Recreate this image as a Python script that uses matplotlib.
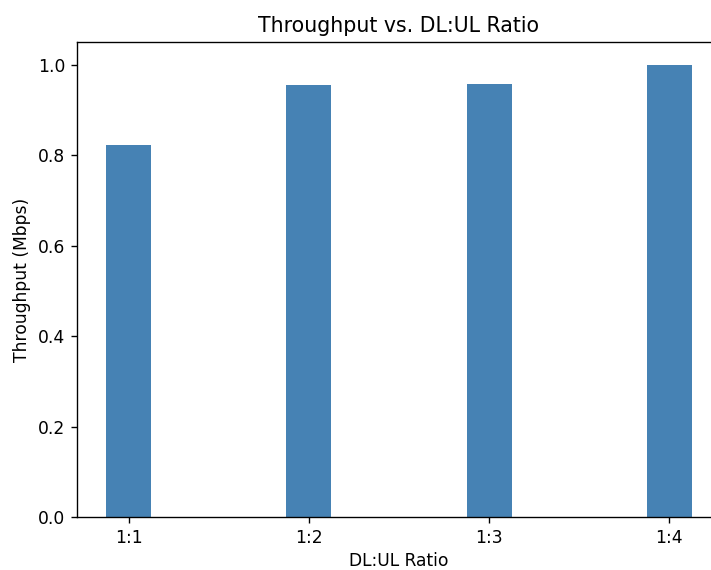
import matplotlib
matplotlib.use("Agg")
import matplotlib.pyplot as plt

ratios = ["1:1", "1:2", "1:3", "1:4"]
throughput = [0.822, 0.955, 0.958, 1.0]

# the reference is a cropped, slightly enlarged render: use a higher dpi
dpi = 123
fig = plt.figure(figsize=(711 / dpi, 570 / dpi), dpi=dpi)
ax = fig.add_axes([77 / 711, 53 / 570, 644 / 711, 475 / 570])

ax.bar(ratios, throughput, width=0.25, color="steelblue")
ax.set_title("Throughput vs. DL:UL Ratio")
ax.set_xlabel("DL:UL Ratio", labelpad=3)
ax.set_ylabel("Throughput (Mbps)")
ax.spines["right"].set_visible(False)

fig.savefig("out.png", dpi=dpi)
